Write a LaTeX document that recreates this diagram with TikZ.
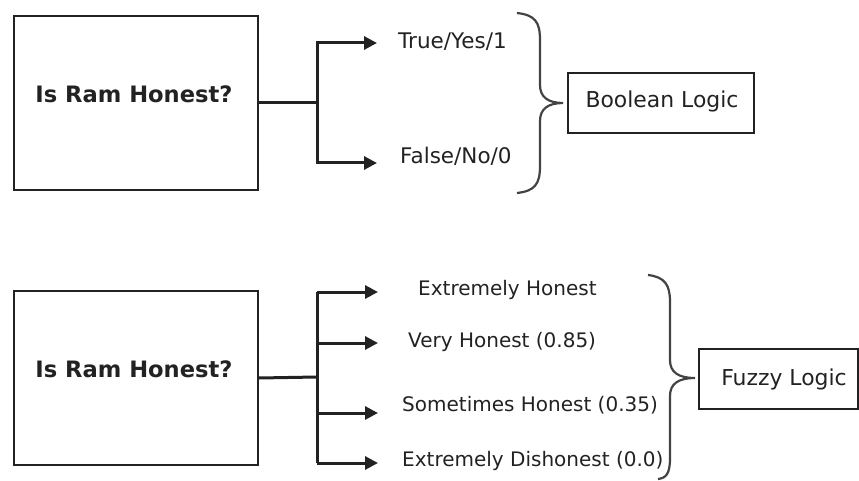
\documentclass[tikz,border=0pt]{standalone}
\usepackage{fontspec}
\setmainfont{DejaVu Sans}
\usetikzlibrary{arrows.meta}
\definecolor{ink}{HTML}{222222}
\begin{document}
\begin{tikzpicture}[x=1pt,y=-1pt,
  qbox/.style={draw=ink,line width=2.2pt,minimum width=244pt,minimum height=174pt,inner sep=0pt},
  logicbox/.style={draw=ink,line width=2.2pt,minimum height=60pt,inner sep=0pt},
  qtext/.style={font=\fontsize{22.6}{26}\selectfont\bfseries,text=ink,inner sep=0pt},
  lbl/.style={text=ink,inner sep=0pt,anchor=west,text height=0.73em,text depth=0pt},
  toplbl/.style={lbl,font=\fontsize{21.5}{25}\selectfont},
  botlbl/.style={lbl,font=\fontsize{20}{24}\selectfont},
  btext/.style={font=\fontsize{21.9}{25}\selectfont,text=ink,inner sep=0pt},
  conn/.style={draw=ink,line width=3pt},
  arr/.style={conn,-{Triangle[length=13pt,width=13pt]}},
  brace/.style={draw=ink!85,line width=2.2pt}]
\useasboundingbox (0,0) rectangle (859,481);
% top
\node[qbox] (q1) at (136,103) {};
\node[qtext] (q1t) at (134,94) {Is Ram Honest?};
\coordinate (j1) at (317,103);
\node[toplbl] (t1) at (398,45) {True/Yes/1};
\node[toplbl] (t2) at (400,160) {False/No/0};
\draw[conn] (q1.east) -- (j1);
\draw[arr] (j1) |- ([xshift=-21pt]t1.west |- 0,43);
\draw[arr] (j1) |- ([xshift=-23pt]t2.west |- 0,163);
\draw[brace] (517,13) .. controls (535,15) and (540,22) .. (540,40) -- (540,85)
  .. controls (540,97) and (548,103) .. (563,103)
  .. controls (548,103) and (540,109) .. (540,121) -- (540,166)
  .. controls (540,184) and (535,191) .. (517,193);
\node[logicbox,minimum width=186pt] (b1) at (661,103) {};
\node[btext] (b1t) at (662,101) {Boolean Logic};
% bottom
\node[qbox] (q2) at (136,378) {};
\node[qtext] (q2t) at (134,369) {Is Ram Honest?};
\coordinate (j2) at (317,377);
\node[botlbl] (f1) at (418,292) {Extremely Honest};
\node[botlbl] (f2) at (408,344) {Very Honest (0.85)};
\node[botlbl] (f3) at (402,408) {Sometimes Honest (0.35)};
\node[botlbl] (f4) at (402,463) {Extremely Dishonest (0.0)};
\coordinate (e1) at (378,292);
\coordinate (e2) at (378,343);
\coordinate (e3) at (378,413);
\coordinate (e4) at (378,463);
\draw[conn] (q2.east) -- (j2);
\draw[conn] (j2 |- e1) -- (j2 |- e4);
\draw[arr] (j2 |- e1) -- (e1);
\draw[arr] (j2 |- e2) -- (e2);
\draw[arr] (j2 |- e3) -- (e3);
\draw[arr] (j2 |- e4) -- (e4);
\draw[brace] (648,275) .. controls (665,277) and (670,285) .. (670,302) -- (670,360)
  .. controls (670,372) and (678,378) .. (695,378)
  .. controls (678,378) and (670,384) .. (670,396) -- (670,458)
  .. controls (670,474) and (666,478) .. (658,479);
\node[logicbox,minimum width=159pt] (b2) at (778.5,379) {};
\node[btext] (b2t) at (784,379) {Fuzzy Logic};
\end{tikzpicture}
\end{document}
